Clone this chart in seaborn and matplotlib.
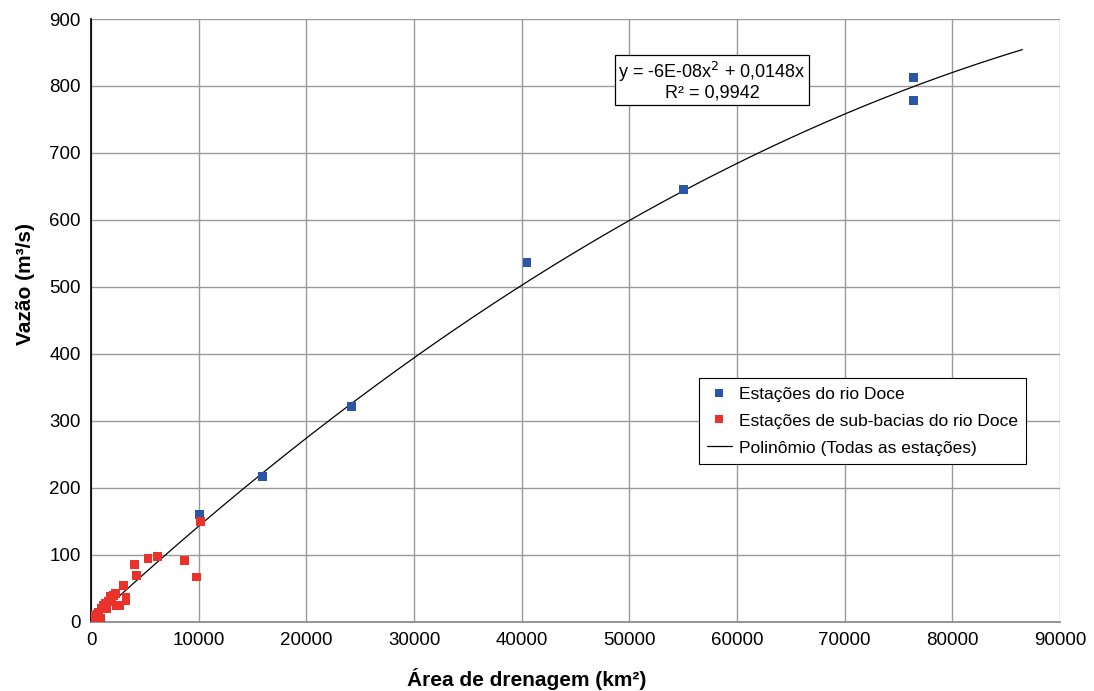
import numpy as np
import pandas as pd
import matplotlib
matplotlib.use("Agg")
import matplotlib.pyplot as plt
import seaborn as sns

# Estações do rio Doce (área km², vazão m³/s)
doce_area = [10100, 15900, 24200, 40500, 55000, 76400, 76400]
doce_vazao = [160, 217, 322, 537, 645, 813, 778]

# Estações de sub-bacias do rio Doce
sub_area = [10200, 8700, 9800, 6200, 5300, 4050, 4250, 3050, 3250, 3250,
            2300, 2400, 2700, 1950, 1600, 1450, 1300, 1000, 850, 700,
            400, 250, 150, 550, 1150, 1800, 2100]
sub_vazao = [150, 92, 67, 98, 95, 86, 69, 55, 37, 32,
             43, 25, 25, 35, 30, 20, 28, 20, 6, 15,
             10, 5, 3, 12, 24, 38, 40]

x_ticks = list(range(0, 90001, 10000))
y_ticks = list(range(0, 901, 100))
x_max_fit = 86500

sns.set_theme(style="white", rc={"text.color": "black", "axes.labelcolor": "black",
                                 "xtick.color": "black", "ytick.color": "black"})
plt.rcParams["font.family"] = ["Liberation Sans", "DejaVu Sans"]

df = pd.concat([
    pd.DataFrame({"area": doce_area, "vazao": doce_vazao, "grupo": "Estações do rio Doce"}),
    pd.DataFrame({"area": sub_area, "vazao": sub_vazao, "grupo": "Estações de sub-bacias do rio Doce"}),
])

# ajuste polinomial de 2a ordem sem intercepto (todas as estações)
X = np.column_stack([df["area"] ** 2, df["area"]])
coef, *_ = np.linalg.lstsq(X, df["vazao"].to_numpy(), rcond=None)
xs = np.linspace(0, x_max_fit, 300)
ys = coef[0] * xs ** 2 + coef[1] * xs

fig = plt.figure(figsize=(10.94, 6.91), dpi=100)
ax = fig.add_axes([0.0832, 0.0999, 0.8858, 0.8726])

ax.plot(xs, ys, color="black", lw=0.9, label="Polinômio (Todas as estações)", zorder=2)
sns.scatterplot(data=df, x="area", y="vazao", hue="grupo",
                palette={"Estações do rio Doce": "#2a56a8",
                         "Estações de sub-bacias do rio Doce": "#e8322a"},
                marker="s", s=40, linewidth=0, ax=ax, zorder=3)

ax.set_xlim(0, 90000)
ax.set_ylim(0, 900)
ax.set_xticks(x_ticks)
ax.set_yticks(y_ticks)
ax.tick_params(labelsize=13.5, length=4, direction="out", color="#888888")
ax.grid(True, color="#9a9a9a", lw=1)
for side in ["top", "right"]:
    ax.spines[side].set_visible(False)
ax.spines["left"].set_color("black")
ax.spines["bottom"].set_color("#888888")

ax.set_xlabel("Área de drenagem (km²)", fontsize=15, fontweight="bold")
ax.set_ylabel("Vazão (m³/s)", fontsize=15, fontweight="bold")
ax.xaxis.set_label_coords(0.45, -0.076)
ax.yaxis.set_label_coords(-0.058, 0.56)

handles, labels = ax.get_legend_handles_labels()
order = [labels.index("Estações do rio Doce"),
         labels.index("Estações de sub-bacias do rio Doce"),
         labels.index("Polinômio (Todas as estações)")]
leg = ax.legend([handles[i] for i in order], [labels[i] for i in order],
                loc="upper left", bbox_to_anchor=(0.627, 0.405), fontsize=12.5,
                frameon=True, fancybox=False, edgecolor="black", framealpha=1,
                handlelength=1.4, handletextpad=0.4, borderpad=0.5,
                borderaxespad=0, labelspacing=0.68)
leg.get_frame().set_linewidth(0.8)

ax.text(0.641, 0.897, "y = -6E-08x$^2$ + 0,0148x\nR² = 0,9942", transform=ax.transAxes,
        ha="center", va="center", fontsize=13, linespacing=1.05,
        bbox=dict(boxstyle="square,pad=0.18", fc="white", ec="black", lw=0.9))

fig.savefig("out.png", dpi=100)
